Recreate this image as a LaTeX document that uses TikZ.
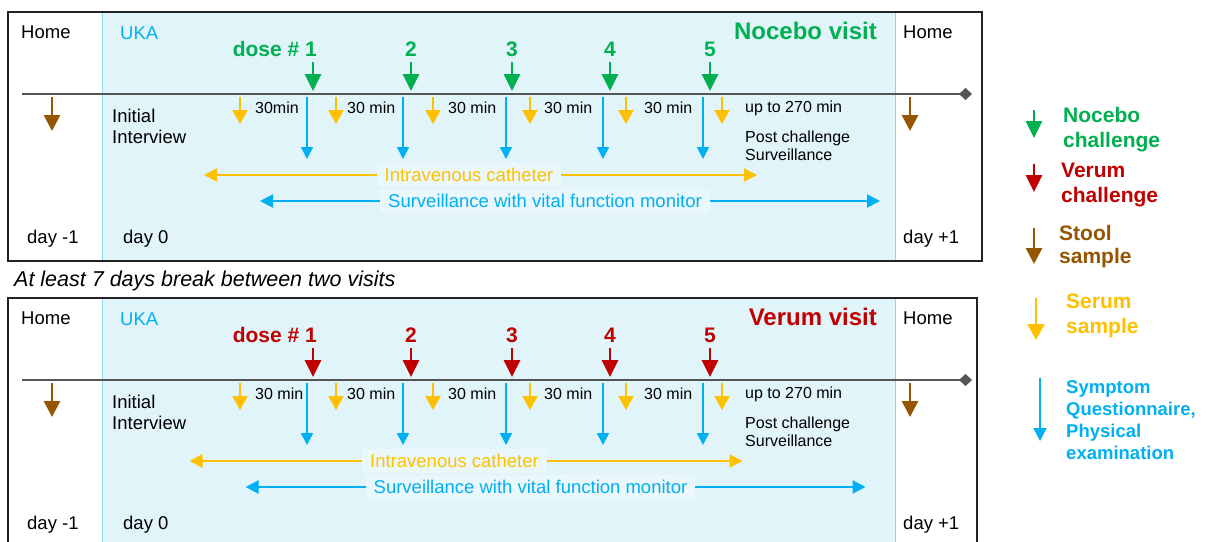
\documentclass[tikz,border=0pt]{standalone}
\usepackage{fontspec}
\setmainfont{Liberation Sans}
\usetikzlibrary{arrows.meta}
\definecolor{cgreen}{HTML}{00B050}
\definecolor{cred}{HTML}{C00000}
\definecolor{cbrown}{RGB}{150,85,0}
\definecolor{cyellow}{HTML}{FFC000}
\definecolor{cblue}{HTML}{00B0F0}
\definecolor{ukabg}{HTML}{E0F4FA}
\definecolor{ukaline}{HTML}{8CD6F0}
\definecolor{labelbg}{HTML}{EAF7FB}
\definecolor{tline}{HTML}{555555}
\definecolor{boxcol}{HTML}{222222}
\tikzset{
  txt/.style={inner sep=0pt, font=\fontsize{18.5}{21}\selectfont},
  small/.style={inner sep=0pt, font=\fontsize{16}{18}\selectfont},
  titletxt/.style={inner sep=0pt, font=\bfseries\fontsize{24}{26}\selectfont},
  dosetxt/.style={inner sep=0pt, font=\bfseries\fontsize{21}{24}\selectfont},
  legtxt/.style={inner sep=0pt, align=left, font=\bfseries\fontsize{21}{25}\selectfont},
  legsmall/.style={inner sep=0pt, align=left, font=\bfseries\fontsize{18.5}{22}\selectfont},
  spanlabel/.style={txt, fill=labelbg, inner xsep=8pt, inner ysep=5pt},
  dosearrow/.style={draw=#1, line width=2.8pt, -{Triangle[length=17pt,width=16pt]}},
  stoolarrow/.style={draw=cbrown, line width=2.8pt, -{Triangle[length=16pt,width=16pt]}},
  serumarrow/.style={draw=cyellow, line width=2.2pt, -{Triangle[length=14pt,width=15pt]}},
  qarrow/.style={draw=cblue, line width=1.5pt, -{Triangle[length=12pt,width=12pt]}},
  spanarrow/.style={line width=2pt, {Triangle[length=13pt,width=13pt]}-{Triangle[length=13pt,width=13pt]}},
  timeline/.style={draw=tline, line width=1.5pt, -{Diamond[length=13pt,width=12pt]}},
  boxline/.style={draw=boxcol, line width=2pt},
}
% #1 prefix, #2 vertical shift, #3 colour, #4 title, #5 first interval label,
% #6 horizontal shift of span arrows, #7 right edge of box, #8 bottom edge of box
\newcommand\visitpanel[8]{%
\begin{scope}[yshift=-#2pt]
  \draw[ukaline, fill=ukabg, line width=0.8pt] (102,12) rectangle (895,#8);
  \draw[boxline] (8,12) rectangle (#7,#8);
  \node[txt, anchor=west] (#1homeL) at (21,32) {Home};
  \node[txt, anchor=west, text=cblue] (#1uka) at (120,33) {UKA};
  \node[titletxt, anchor=east, text=#3] (#1title) at (877,31) {#4};
  \node[txt, anchor=west] (#1homeR) at (903,32) {Home};
  \node[txt, anchor=west] (#1dayA) at (27,239) {day -1};
  \node[txt, anchor=west] (#1dayB) at (123,239) {day 0};
  \node[txt, anchor=west] (#1dayC) at (903,239) {day +1};
  % timeline
  \coordinate (#1tlA) at (22,94);
  \coordinate (#1tlB) at (972,94);
  \draw[timeline] (#1tlA) -- (#1tlB);
  % doses
  \node[dosetxt, anchor=east, text=#3] (#1dose) at (317,49) {dose \# 1};
  \foreach \x/\n in {411/2,512/3,610/4,710/5}{
    \node[dosetxt, text=#3] (#1num\n) at (\x,49) {\n};}
  \foreach \x [count=\i] in {313,411,512,610,710}{
    \coordinate (#1dA\i) at (\x,62);
    \coordinate (#1dB\i) at (\x,91);
    \draw[dosearrow=#3] (#1dA\i) -- (#1dB\i);}
  % questionnaire arrows
  \foreach \x [count=\i] in {307,403,506,603,703}{
    \coordinate (#1qA\i) at (\x,97);
    \coordinate (#1qB\i) at (\x,159);
    \draw[qarrow] (#1qA\i) -- (#1qB\i);}
  % serum arrows
  \foreach \x [count=\i] in {240,336,433,530,626,722}{
    \coordinate (#1sA\i) at (\x,97);
    \coordinate (#1sB\i) at (\x,124);
    \draw[serumarrow] (#1sA\i) -- (#1sB\i);}
  % stool arrows
  \coordinate (#1stA) at (52,97);
  \coordinate (#1stB) at (52,131);
  \draw[stoolarrow] (#1stA) -- (#1stB);
  \coordinate (#1stC) at (910,97);
  \coordinate (#1stD) at (910,131);
  \draw[stoolarrow] (#1stC) -- (#1stD);
  % interval labels
  \node[small, anchor=west] (#1int1) at (255,108) {#5};
  \foreach \x [count=\i from 2] in {347,448,544,644}{
    \node[small, anchor=west] (#1int\i) at (\x,108) {30 min};}
  \node[small, anchor=west] (#1upto) at (745,108) {up to 270 min};
  \node[small, anchor=west, align=left] (#1post) at (745,146) {Post challenge\\Surveillance};
  \node[txt, anchor=west, align=left] (#1init) at (112,126) {Initial\\Interview};
  % span arrows
  \begin{scope}[xshift=#6pt]
    \coordinate (#1catL) at (204,175);
    \coordinate (#1catR) at (757,175);
    \draw[spanarrow, cyellow] (#1catL) -- (#1catR);
    \node[spanlabel, text=cyellow] (#1cat) at (469,175) {Intravenous catheter};
    \coordinate (#1survL) at (260,201);
    \coordinate (#1survR) at (880,201);
    \draw[spanarrow, cblue] (#1survL) -- (#1survR);
    \node[spanlabel, text=cblue] (#1surv) at (545,201) {Surveillance with vital function monitor};
  \end{scope}
\end{scope}}

\begin{document}
\begin{tikzpicture}[x=1pt,y=-1pt]
  \useasboundingbox (0,0) rectangle (1206,541);
  \clip (0,0) rectangle (1206,541);
  \fill[white] (0,0) rectangle (1206,541);

  \visitpanel{n}{0}{cgreen}{Nocebo visit}{30min}{0}{982}{261}
  \visitpanel{v}{286}{cred}{Verum visit}{30 min}{-14.5}{977}{290}

  \node[anchor=west, inner sep=0pt, font=\itshape\fontsize{21.5}{24}\selectfont] (gap) at (14,281) {At least 7 days break between two visits};

  % legend
  \coordinate (lgA) at (1034,110); \coordinate (lgB) at (1034,138);
  \draw[dosearrow=cgreen] (lgA) -- (lgB);
  \node[legtxt, anchor=west, text=cgreen] (lgtxt) at (1063,130) {Nocebo\\challenge};
  \coordinate (lrA) at (1034,164); \coordinate (lrB) at (1034,192);
  \draw[dosearrow=cred] (lrA) -- (lrB);
  \node[legtxt, anchor=west, text=cred] (lrtxt) at (1061,185) {Verum\\challenge};
  \coordinate (lbA) at (1034,228); \coordinate (lbB) at (1034,264);
  \draw[stoolarrow] (lbA) -- (lbB);
  \node[legtxt, anchor=west, text=cbrown, font=\bfseries\fontsize{21}{23}\selectfont] (lbtxt) at (1059,247) {Stool\\sample};
  \coordinate (lyA) at (1036,298); \coordinate (lyB) at (1036,340);
  \draw[serumarrow, line width=2.5pt, -{Triangle[length=16pt,width=17pt]}] (lyA) -- (lyB);
  \node[legtxt, anchor=west, text=cyellow] (lytxt) at (1066,316) {Serum\\sample};
  \coordinate (lqA) at (1040,378); \coordinate (lqB) at (1040,441);
  \draw[qarrow, -{Triangle[length=13pt,width=13pt]}] (lqA) -- (lqB);
  \node[legsmall, anchor=west, text=cblue] (lqtxt) at (1066,420) {Symptom\\Questionnaire,\\Physical\\examination};
\end{tikzpicture}
\end{document}
